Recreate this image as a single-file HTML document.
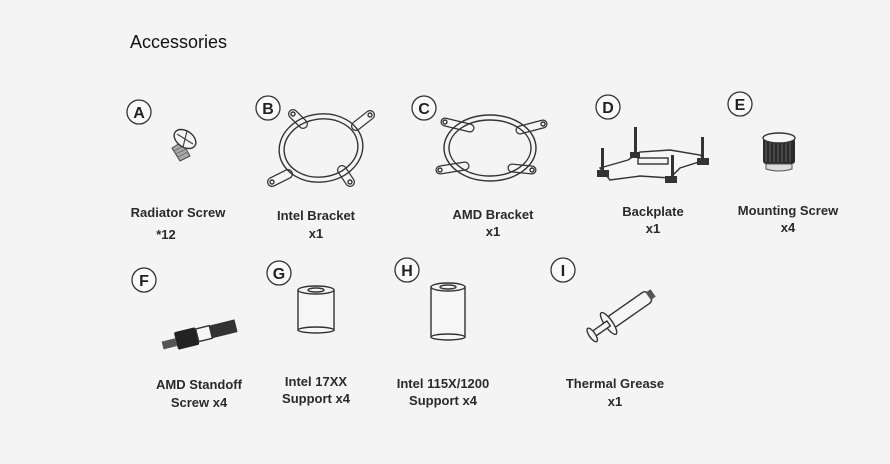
<!DOCTYPE html>
<html><head><meta charset="utf-8"><style>
html,body{margin:0;padding:0;background:#f4f4f4;}
svg{display:block}
.l{font-family:"Liberation Sans",sans-serif;font-weight:bold;font-size:13px;fill:#2a2a2a;text-anchor:middle}
.c{fill:#fafafa;stroke:#333;stroke-width:1.3}
.cl{font-family:"Liberation Sans",sans-serif;font-weight:bold;font-size:16px;fill:#222;text-anchor:middle}
.o{fill:none;stroke:#333;stroke-width:1.4}
.w{fill:#f6f6f6;stroke:#333;stroke-width:1.4}
</style></head><body>
<svg width="890" height="464" viewBox="0 0 890 464" xmlns="http://www.w3.org/2000/svg">
<rect width="890" height="464" fill="#f4f4f4"/>
<text x="130" y="48" font-family="Liberation Sans, sans-serif" font-size="18" fill="#111">Accessories</text>

<g>
<circle class="c" cx="139" cy="112" r="12"/><text class="cl" x="139" y="118">A</text>
<circle class="c" cx="268" cy="108" r="12"/><text class="cl" x="268" y="114">B</text>
<circle class="c" cx="424" cy="108" r="12"/><text class="cl" x="424" y="114">C</text>
<circle class="c" cx="608" cy="107" r="12"/><text class="cl" x="608" y="113">D</text>
<circle class="c" cx="740" cy="104" r="12"/><text class="cl" x="740" y="110">E</text>
<circle class="c" cx="144" cy="280" r="12"/><text class="cl" x="144" y="286">F</text>
<circle class="c" cx="279" cy="273" r="12"/><text class="cl" x="279" y="279">G</text>
<circle class="c" cx="407" cy="270" r="12"/><text class="cl" x="407" y="276">H</text>
<circle class="c" cx="563" cy="270" r="12"/><text class="cl" x="563" y="276">I</text>
</g>

<g>
<polygon points="172,148 182,142 190,156 180,161" fill="#aaa" stroke="#444"/>
<path d="M174,151 l10,-5 M176,154 l10,-5 M178,157 l10,-5" stroke="#666" stroke-width="0.8"/>
<ellipse cx="185" cy="139" rx="12" ry="8" transform="rotate(35 185 139)" class="w"/>
<path d="M177,134 L193,144 M187,131 L183,147" stroke="#444" stroke-width="1.2"/>
</g>

<g>
<path d="M293,114 L303,124 M370,115 L356,126 M272,182 L288,174 M350,182 L342,170" stroke="#333" stroke-width="10" stroke-linecap="round"/>
<path d="M293,114 L303,124 M370,115 L356,126 M272,182 L288,174 M350,182 L342,170" stroke="#f6f6f6" stroke-width="7.5" stroke-linecap="round"/>
<g transform="rotate(-8 321 148)">
<ellipse cx="321" cy="148" rx="42" ry="34" class="o" stroke-width="2.4"/>
<ellipse cx="321" cy="148" rx="37" ry="29" class="o"/>
</g>
<circle cx="293" cy="114" r="2" class="o"/><circle cx="370" cy="115" r="2" class="o"/>
<circle cx="272" cy="182" r="2" class="o"/><circle cx="350" cy="182" r="2" class="o"/>
</g>

<g>
<path d="M445,122 L470,128 M543,124 L520,130 M440,170 L465,166 M532,170 L512,168" stroke="#333" stroke-width="9" stroke-linecap="round"/>
<path d="M445,122 L470,128 M543,124 L520,130 M440,170 L465,166 M532,170 L512,168" stroke="#f6f6f6" stroke-width="6.5" stroke-linecap="round"/>
<ellipse cx="490" cy="148" rx="46" ry="33" class="o" stroke-width="2.4"/>
<ellipse cx="490" cy="148" rx="41" ry="28" class="o"/>
<circle cx="445" cy="122" r="2" class="o"/><circle cx="543" cy="124" r="2" class="o"/>
<circle cx="440" cy="170" r="2" class="o"/><circle cx="532" cy="170" r="2" class="o"/>
</g>

<g>
<polygon points="600,168 628,160 640,152 670,150 700,155 705,160 680,168 670,178 640,176 610,180" class="w"/>
<rect x="634" y="127" width="3" height="30" fill="#333"/>
<rect x="701" y="137" width="3" height="25" fill="#333"/>
<rect x="601" y="148" width="3" height="25" fill="#333"/>
<rect x="671" y="155" width="3" height="25" fill="#333"/>
<rect x="597" y="170" width="12" height="7" fill="#333"/>
<rect x="665" y="176" width="12" height="7" fill="#333"/>
<rect x="697" y="158" width="12" height="7" fill="#333"/>
<rect x="630" y="152" width="10" height="6" fill="#333"/>
<rect x="638" y="158" width="30" height="6" class="o" stroke-width="0.8"/>
</g>

<g>
<rect x="763" y="138" width="32" height="26" rx="3" fill="#2a2a2a"/>
<path d="M766,140v22M770,140v22M774,140v22M778,140v22M782,140v22M786,140v22M790,140v22" stroke="#777" stroke-width="0.8"/>
<ellipse cx="779" cy="138" rx="16" ry="5" class="w"/>
<path d="M766,164 h26 v5 q-13,4 -26,0 Z" fill="#ddd" stroke="#555"/>
</g>

<g transform="rotate(-14 200 330)">
<rect x="160" y="332" width="14" height="8" fill="#555"/>
<rect x="174" y="326" width="22" height="18" rx="2" fill="#222"/>
<rect x="196" y="328" width="14" height="13" class="w"/>
<rect x="210" y="328" width="26" height="13" fill="#333"/>
</g>

<g>
<rect x="298" y="290" width="36" height="40" class="w"/>
<ellipse cx="316" cy="330" rx="18" ry="3" class="w"/>
<ellipse cx="316" cy="290" rx="18" ry="4" class="w"/>
<ellipse cx="316" cy="290" rx="8" ry="2" class="o" stroke-width="1"/>
</g>

<g>
<rect x="431" y="287" width="34" height="50" class="w"/>
<ellipse cx="448" cy="337" rx="17" ry="3" class="w"/>
<ellipse cx="448" cy="287" rx="17" ry="4" class="w"/>
<ellipse cx="448" cy="287" rx="8" ry="2" class="o" stroke-width="1"/>
</g>

<g transform="rotate(-35 625 312)">
<rect x="605" y="306" width="50" height="13" rx="5" class="w"/>
<rect x="653" y="308" width="6" height="9" fill="#555"/>
<ellipse cx="605" cy="312" rx="4" ry="13" class="w"/>
<rect x="585" y="309" width="20" height="6" class="w"/>
<ellipse cx="585" cy="312" rx="3" ry="8" class="w"/>
</g>

<text class="l" x="178" y="217">Radiator Screw</text>
<text class="l" x="166" y="239" font-size="10">*12</text>
<text class="l" x="316" y="220">Intel Bracket</text>
<text class="l" x="316" y="238">x1</text>
<text class="l" x="493" y="219">AMD Bracket</text>
<text class="l" x="493" y="236">x1</text>
<text class="l" x="653" y="216">Backplate</text>
<text class="l" x="653" y="233">x1</text>
<text class="l" x="788" y="215">Mounting Screw</text>
<text class="l" x="788" y="232">x4</text>
<text class="l" x="199" y="389">AMD Standoff</text>
<text class="l" x="199" y="407">Screw x4</text>
<text class="l" x="316" y="386">Intel 17XX</text>
<text class="l" x="316" y="403">Support x4</text>
<text class="l" x="443" y="388">Intel 115X/1200</text>
<text class="l" x="443" y="405">Support x4</text>
<text class="l" x="615" y="388">Thermal Grease</text>
<text class="l" x="615" y="406">x1</text>
</svg>
</body></html>
